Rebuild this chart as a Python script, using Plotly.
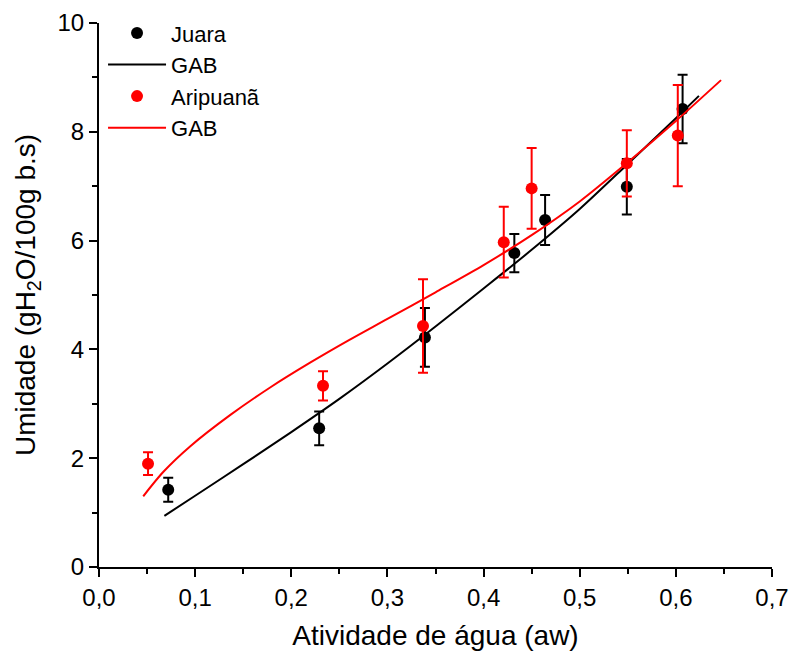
import plotly.graph_objects as go

# Experimental data
juara_aw = [0.072, 0.229, 0.339, 0.432, 0.464, 0.549, 0.607]
juara_m = [1.42, 2.55, 4.22, 5.77, 6.38, 6.99, 8.42]
juara_err = [0.22, 0.31, 0.54, 0.35, 0.46, 0.51, 0.63]

arip_aw = [0.051, 0.233, 0.337, 0.421, 0.450, 0.549, 0.602]
arip_m = [1.90, 3.33, 4.43, 5.97, 6.96, 7.42, 7.93]
arip_err = [0.21, 0.27, 0.86, 0.65, 0.74, 0.61, 0.93]

# GAB fitted curves
gab_j_aw = [0.068, 0.10, 0.15, 0.20, 0.25, 0.30, 0.35, 0.40, 0.45, 0.50, 0.55, 0.60, 0.624]
gab_j_m = [0.94, 1.31, 1.89, 2.48, 3.09, 3.74, 4.42, 5.12, 5.83, 6.58, 7.41, 8.25, 8.66]

gab_a_aw = [0.046, 0.067, 0.095, 0.137, 0.178, 0.22, 0.26, 0.30, 0.35, 0.40, 0.45, 0.50, 0.55, 0.60, 0.647]
gab_a_m = [1.30, 1.75, 2.22, 2.80, 3.30, 3.76, 4.17, 4.56, 5.05, 5.55, 6.10, 6.72, 7.44, 8.20, 8.95]

FONT = "Liberation Sans, Arial, sans-serif"

fig = go.Figure()
fig.add_trace(go.Scatter(
    x=juara_aw, y=juara_m, mode="markers", name="Juara",
    marker=dict(color="black", size=12),
    error_y=dict(type="data", array=juara_err, color="black", thickness=2, width=5),
))
fig.add_trace(go.Scatter(
    x=gab_j_aw, y=gab_j_m, mode="lines", name="GAB",
    line=dict(color="black", width=2, shape="spline", smoothing=0.8),
))
fig.add_trace(go.Scatter(
    x=arip_aw, y=arip_m, mode="markers", name="Aripuanã",
    marker=dict(color="#ff0000", size=12),
    error_y=dict(type="data", array=arip_err, color="#ff0000", thickness=2, width=5),
))
fig.add_trace(go.Scatter(
    x=gab_a_aw, y=gab_a_m, mode="lines", name="GAB",
    line=dict(color="#ff0000", width=2, shape="spline", smoothing=0.8),
))

axis_common = dict(
    showline=True, linecolor="black", linewidth=2, mirror=False,
    showgrid=False, zeroline=False, automargin=False,
    ticks="outside", ticklen=8, tickwidth=2, tickcolor="black",
    tickfont=dict(family=FONT, size=24, color="black"),
)

fig.update_xaxes(
    range=[0, 0.7], dtick=0.1, tick0=0, tickformat=".1f",
    minor=dict(dtick=0.05, ticks="outside", ticklen=5, tickwidth=2, tickcolor="black"),
    title=dict(text="Atividade de água (aw)", font=dict(family=FONT, size=28, color="black"), standoff=16),
    **axis_common,
)
fig.update_yaxes(
    range=[0, 10], dtick=2, tick0=0,
    minor=dict(dtick=1, ticks="outside", ticklen=5, tickwidth=2, tickcolor="black"),
    title=dict(text="Umidade (gH<sub>2</sub>O/100g b.s)", font=dict(family=FONT, size=28, color="black"), standoff=14),
    **axis_common,
)

fig.update_layout(
    width=791, height=657,
    margin=dict(l=99, r=19, t=23, b=90),
    plot_bgcolor="white", paper_bgcolor="white",
    separators=",.",
    showlegend=True,
    legend=dict(
        x=0.006, y=1.02, xanchor="left", yanchor="top",
        font=dict(family=FONT, size=22, color="black"),
        bgcolor="rgba(0,0,0,0)", itemwidth=58, tracegroupgap=0,
    ),
)

fig.write_html("out.html")
